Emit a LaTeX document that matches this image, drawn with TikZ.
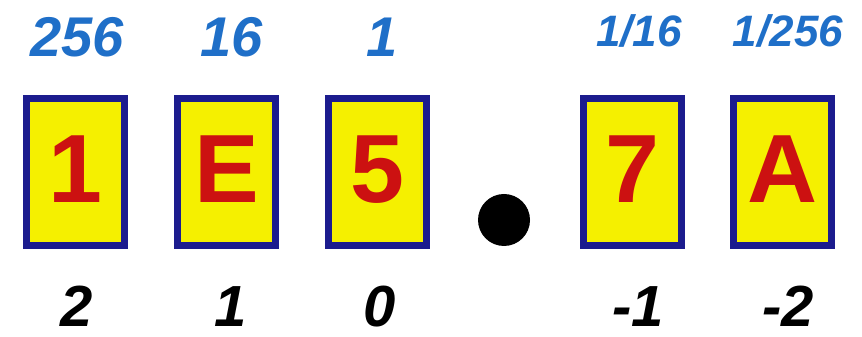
\documentclass[tikz,border=0pt]{standalone}
\usepackage{fontspec}
\setmainfont{Liberation Sans}
\definecolor{boxfill}{HTML}{F5F000}
\definecolor{boxline}{HTML}{1C1C8E}
\definecolor{digitred}{HTML}{CC1111}
\definecolor{labelblue}{HTML}{1F6FC8}
\begin{document}
\begin{tikzpicture}[x=1pt,y=1pt,
  digitbox/.style={draw=boxline, fill=boxfill, line width=7pt, minimum width=98pt, minimum height=147pt, inner sep=0pt},
  digit/.style={anchor=base, text=digitred, font=\bfseries\fontsize{97}{97}\selectfont, inner sep=0pt},
  weight/.style={anchor=base, text=labelblue, font=\bfseries\itshape\fontsize{56}{56}\selectfont, inner sep=0pt},
  smallweight/.style={anchor=base, text=labelblue, font=\bfseries\itshape\fontsize{44}{44}\selectfont, inner sep=0pt},
  position/.style={anchor=base, text=black, font=\bfseries\itshape\fontsize{58}{58}\selectfont, inner sep=0pt}]
\useasboundingbox (0,0) rectangle (862,337);
% boxes
\node[digitbox] (b1) at (75.5,165) {};
\node[digitbox] (b2) at (226.5,165) {};
\node[digitbox] (b3) at (377.5,165) {};
\node[digitbox] (b4) at (632,165) {};
\node[digitbox] (b5) at (782.5,165) {};
% digits
\node[digit] (d1) at (75.5,134) {1};
\node[digit] (d2) at (226.5,134) {E};
\node[digit] (d3) at (377.5,134) {5};
\node[digit] (d4) at (632,134) {7};
\node[digit] (d5) at (782.5,134) {A};
% radix point
\fill (504,117) circle (26) coordinate (dot);
% weights
\node[weight] (w1) at (77,280) {256};
\node[weight] (w2) at (232,280) {16};
\node[weight] (w3) at (382,280) {1};
\node[smallweight] (w4) at (639,290) {1/16};
\node[smallweight] (w5) at (788,290) {1/256};
% positions
\node[position] (p1) at (77,10) {2};
\node[position] (p2) at (231,10) {1};
\node[position] (p3) at (380,10) {0};
\node[position] (p4) at (638,10) {-1};
\node[position] (p5) at (788,10) {-2};
\end{tikzpicture}
\end{document}
